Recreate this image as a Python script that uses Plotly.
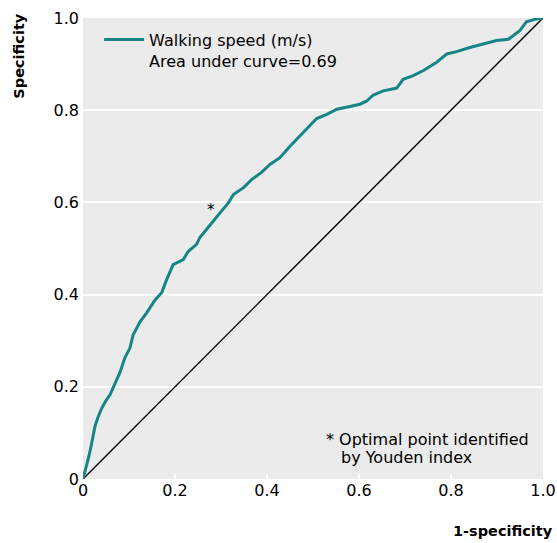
import plotly.graph_objects as go

# ROC curve points (1-specificity, specificity)
fpr = [0.0, 0.004, 0.008, 0.013, 0.019, 0.026, 0.033, 0.041, 0.05, 0.059, 0.07, 0.08, 0.091,
       0.102, 0.109, 0.124, 0.138, 0.157, 0.171, 0.182, 0.196, 0.208, 0.218, 0.229, 0.247,
       0.254, 0.269, 0.283, 0.301, 0.316, 0.327, 0.349, 0.367, 0.388, 0.407, 0.428, 0.45,
       0.475, 0.497, 0.508, 0.53, 0.552, 0.58, 0.602, 0.617, 0.631, 0.653, 0.682, 0.696,
       0.718, 0.74, 0.769, 0.791, 0.812, 0.841, 0.87, 0.899, 0.925, 0.936, 0.95, 0.964,
       0.986, 1.0]
tpr = [0.0, 0.015, 0.035, 0.05, 0.078, 0.114, 0.135, 0.154, 0.17, 0.183, 0.208, 0.23, 0.263,
       0.284, 0.313, 0.341, 0.36, 0.389, 0.404, 0.433, 0.465, 0.471, 0.476, 0.494, 0.509,
       0.524, 0.541, 0.559, 0.581, 0.599, 0.617, 0.632, 0.65, 0.665, 0.683, 0.697, 0.722,
       0.748, 0.77, 0.782, 0.791, 0.802, 0.808, 0.813, 0.82, 0.833, 0.842, 0.848, 0.867,
       0.875, 0.886, 0.904, 0.922, 0.927, 0.936, 0.943, 0.951, 0.954, 0.962, 0.973, 0.992,
       0.998, 1.0]
diag = [0.0, 1.0]
optimal_point = (0.28, 0.586)
tick_vals = [0, 0.2, 0.4, 0.6, 0.8, 1.0]
tick_text = ["0", "0.2", "0.4", "0.6", "0.8", "1.0"]

FONT = "DejaVu Sans"
TEAL = "#168585"
FS = 16

fig = go.Figure()
fig.add_trace(go.Scatter(x=diag, y=diag, mode="lines",
                         line=dict(color="black", width=1.4),
                         showlegend=False, hoverinfo="skip"))
fig.add_trace(go.Scatter(x=fpr, y=tpr, mode="lines",
                         line=dict(color=TEAL, width=3),
                         name="Walking speed (m/s)<br>Area under curve=0.69"))

fig.add_annotation(x=optimal_point[0], y=optimal_point[1], text="*", showarrow=False,
                   xref="x", yref="y", xshift=-1, yshift=-1,
                   font=dict(size=15, color="black", family=FONT))
fig.add_annotation(x=0.524, y=0.0846, xref="paper", yref="paper", xanchor="left", yanchor="middle",
                   text="* Optimal point identified", showarrow=False,
                   font=dict(size=FS, color="black", family=FONT))
fig.add_annotation(x=0.557, y=0.0477, xref="paper", yref="paper", xanchor="left", yanchor="middle",
                   text="by Youden index", showarrow=False,
                   font=dict(size=FS, color="black", family=FONT))
fig.add_annotation(x=-0.141, y=1.013, xref="paper", yref="paper", xanchor="center", yanchor="top",
                   text="<b>Specificity</b>", textangle=-90, showarrow=False,
                   font=dict(size=14.5, color="black", family=FONT))
fig.add_annotation(x=1.026, y=-0.112, xref="paper", yref="paper", xanchor="right", yanchor="middle",
                   text="<b>1-specificity</b>", showarrow=False,
                   font=dict(size=14.5, color="black", family=FONT))

fig.update_layout(
    width=557, height=543,
    margin=dict(l=83, r=14, t=18, b=64, autoexpand=False),
    paper_bgcolor="white",
    plot_bgcolor="#ebebeb",
    font=dict(family=FONT, size=FS, color="black"),
    legend=dict(x=0.035, y=0.99, xanchor="left", yanchor="top", bgcolor="rgba(0,0,0,0)",
                valign="top", font=dict(size=FS, family=FONT), itemwidth=40),
    showlegend=True,
)
fig.update_xaxes(range=[0, 1], tickvals=tick_vals, ticktext=tick_text, showgrid=False,
                 zeroline=False, ticks="inside", tickcolor="white", ticklen=5, tickwidth=2,
                 showline=False, tickfont=dict(size=16), automargin=False)
fig.update_yaxes(range=[0, 1], tickvals=tick_vals, ticktext=tick_text, showgrid=True,
                 gridcolor="white", gridwidth=2, zeroline=False, ticks="", showline=False,
                 tickfont=dict(size=16), automargin=False, ticklabelstandoff=3)

fig.write_html("out.html", config={"displayModeBar": False},
               post_script="document.body.style.margin='0';")
